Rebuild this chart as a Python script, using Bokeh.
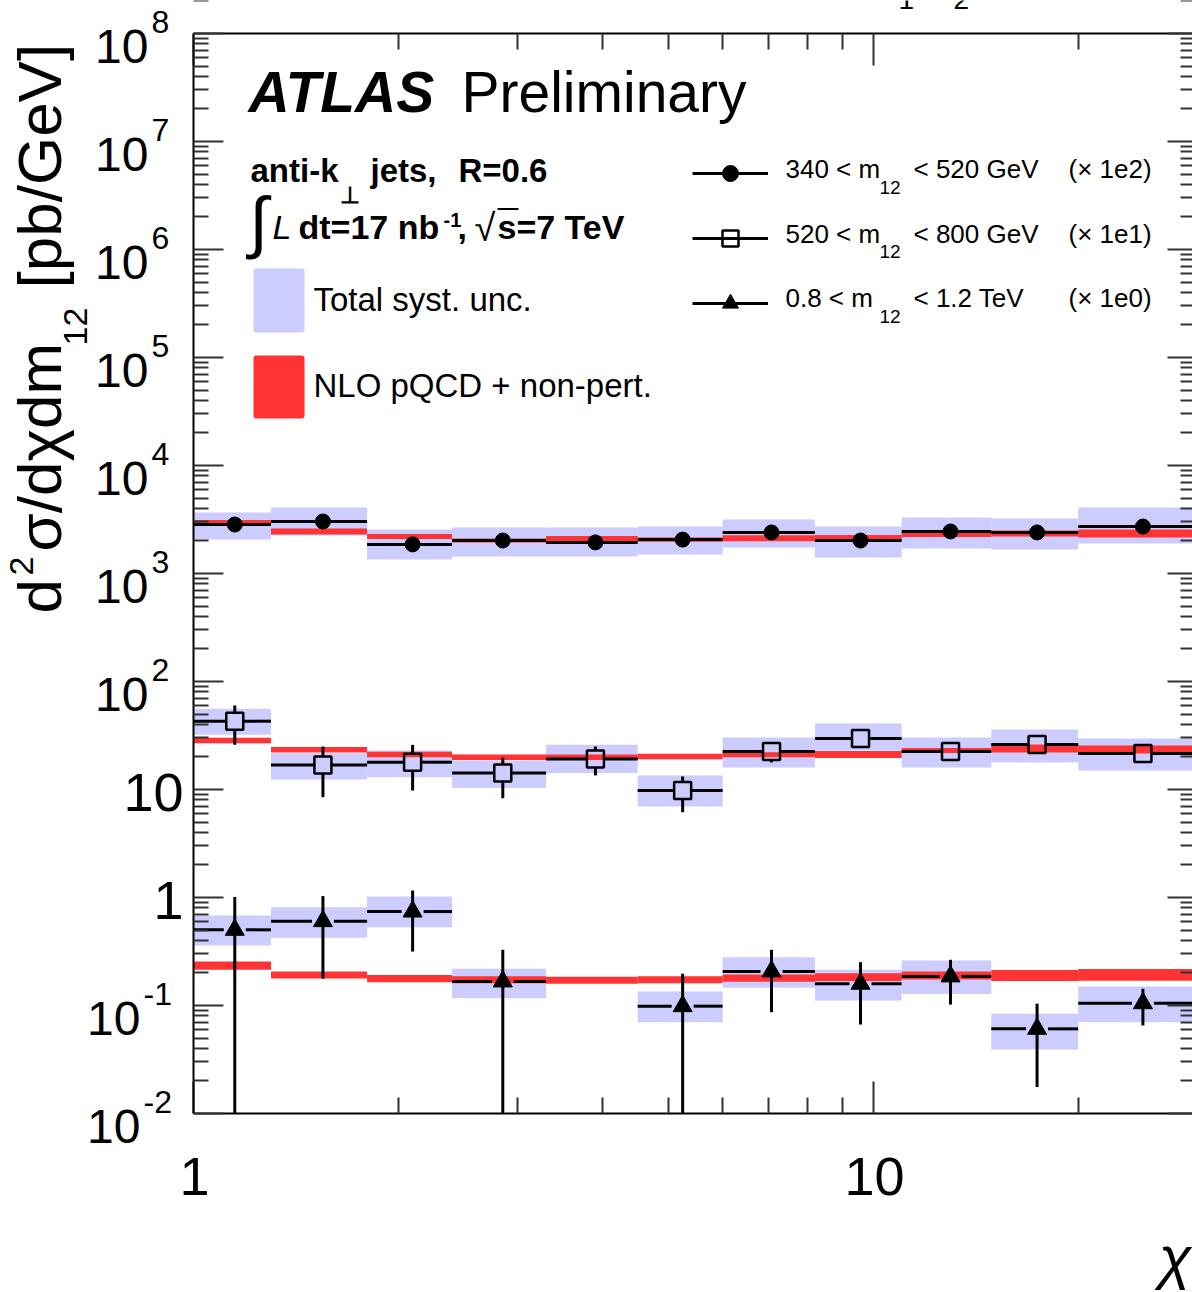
import numpy as np
from bokeh.plotting import figure
from bokeh.models import (Label, LogAxis, FixedTicker, BoxAnnotation, Legend,
                          LegendItem, Range1d, CustomJSTickFormatter)
from bokeh.embed import file_html
from bokeh.resources import INLINE

nan = np.nan

# ---------------- data ----------------
chi_edges = [1.0, 1.3, 1.8, 2.4, 3.3, 4.5, 6.0, 8.2, 11.0, 14.9, 20.0, 30.0]
chi_points = [1.15, 1.55, 2.10, 2.85, 3.90, 5.24, 7.08, 9.57, 12.98, 17.4, 24.9]

scale_factors = [1e2, 1e1, 1e0]
scale_labels = ["(\u00d7 1e2)", "(\u00d7 1e1)", "(\u00d7 1e0)"]
mass_lo = ["340", "520", "0.8 "]
mass_hi = ["< 520 GeV", "< 800 GeV", "< 1.2 TeV"]

# 340 < m12 < 520 GeV
m1_value   = [28.4, 30.3, 18.6, 20.2, 19.4, 20.6, 24.0, 20.2, 24.5, 24.0, 27.2]
m1_stat_lo = [24.5, 28.8, 17.6, 19.2, 18.4, 19.6, 22.8, 19.2, 23.3, 22.8, 25.8]
m1_stat_hi = [32.5, 31.8, 19.6, 21.2, 20.4, 21.6, 25.2, 21.2, 25.7, 25.2, 28.6]
m1_syst_lo = [20.6, 22.5, 13.5, 14.4, 14.4, 15.0, 17.4, 14.1, 17.0, 16.7, 19.0]
m1_syst_hi = [36.7, 40.8, 25.5, 26.7, 26.7, 27.2, 31.6, 27.2, 33.0, 32.3, 40.8]
m1_nlo     = [29.7, 24.5, 22.0, 20.2, 21.1, 20.6, 21.2, 21.5, 23.0, 23.5, 23.5]
m1_nlo_unc = [0.055, 0.066, 0.055, 0.045, 0.055, 0.045, 0.066, 0.055, 0.055, 0.066, 0.09]

# 520 < m12 < 800 GeV
m2_value   = [4.29, 1.69, 1.79, 1.42, 1.92, 0.979, 2.25, 2.97, 2.25, 2.61, 2.15]
m2_stat_lo = [2.59, 0.849, 0.979, 0.830, 1.35, 0.616, 1.78, 2.50, 1.90, 2.25, 1.85]
m2_stat_hi = [6.00, 2.50, 2.59, 1.97, 2.50, 1.32, 2.65, 3.50, 2.65, 3.00, 2.50]
m2_syst_lo = [3.21, 1.24, 1.30, 1.03, 1.42, 0.696, 1.60, 2.30, 1.60, 1.78, 1.50]
m2_syst_hi = [5.59, 2.17, 2.30, 1.86, 2.59, 1.35, 3.03, 4.08, 3.03, 3.59, 2.97]
m2_nlo     = [2.84, 2.33, 2.11, 1.99, 1.99, 2.02, 2.10, 2.11, 2.30, 2.40, 2.35]
m2_nlo_unc = [0.06, 0.06, 0.06, 0.06, 0.06, 0.06, 0.055, 0.077, 0.055, 0.09, 0.09]

# 0.8 < m12 < 1.2 TeV
m3_value   = [0.502, 0.604, 0.741, 0.167, nan, 0.0986, 0.207, 0.159, 0.186, 0.0608, 0.105]
m3_stat_lo = [0.0, 0.177, 0.316, 0.0, nan, 0.0, 0.0867, 0.0667, 0.102, 0.0176, 0.0653]
m3_stat_hi = [1.01, 1.03, 1.16, 0.328, nan, 0.197, 0.328, 0.252, 0.265, 0.104, 0.143]
m3_syst_lo = [0.360, 0.424, 0.531, 0.117, nan, 0.070, 0.146, 0.111, 0.128, 0.0392, 0.070]
m3_syst_hi = [0.681, 0.813, 1.02, 0.219, nan, 0.135, 0.280, 0.214, 0.261, 0.0838, 0.150]
m3_nlo     = [0.234, 0.192, 0.177, 0.173, 0.171, 0.173, 0.179, 0.183, 0.190, 0.190, 0.192]
m3_nlo_unc = [0.092, 0.077, 0.081, 0.077, 0.077, 0.077, 0.081, 0.085, 0.089, 0.124, 0.133]

y_decades = list(range(-2, 9))
x_major = [1, 10]

# ---------------- layout ----------------
# The plotting frame covers the whole canvas; the axes are pinned at fixed
# data locations so that texts outside the axes box are not clipped.
W, H = 1192, 1292
FL, FR, FT, FB = 193, 1192, 33, 1113      # axes box, picture pixels
PXD_X = 680.0
Y_START, Y_END = 1e-2, 1e8
PXD_Y = (FB - FT) / np.log10(Y_END / Y_START)
X_END = 10 ** ((FR - FL) / PXD_X)

SANS = "Liberation Sans"
SYST = "#ccccff"
RED = "#ff3333"
MID = 0.385   # Label anchor sits at mid height: baseline = anchor + MID * size


def X(px):
    return 10 ** ((px - FL) / PXD_X)


def Y(py):
    return 10 ** ((FB - py) / PXD_Y + np.log10(Y_START))


p = figure(width=W, height=H, x_axis_type="log", y_axis_type="log",
           x_range=Range1d(X(0), X(W)), y_range=Range1d(Y(H), Y(0)),
           output_backend="svg", toolbar_location=None,
           min_border_left=0, min_border_right=0,
           min_border_top=0, min_border_bottom=0)
p.outline_line_color = None
p.grid.visible = False
p.background_fill_color = "white"
p.border_fill_color = "white"

xmin = [k * 10 ** e for e in (0, 1) for k in range(2, 10)]
ymin = [k * 10.0 ** e for e in y_decades for k in range(2, 10)]


def style_axis(ax, ticks, minors, tin, mtin, loc, bounds, line=True):
    ax.ticker = FixedTicker(ticks=ticks, minor_ticks=minors)
    ax.formatter = CustomJSTickFormatter(code="return ''")
    ax.fixed_location = loc
    ax.bounds = bounds
    ax.major_tick_in = tin
    ax.major_tick_out = 0
    ax.minor_tick_in = mtin
    ax.minor_tick_out = 0
    ax.major_tick_line_width = 2
    ax.minor_tick_line_width = 2
    ax.major_tick_line_color = "#333333"
    ax.minor_tick_line_color = "#333333"
    ax.major_label_text_font_size = "1px"
    ax.major_label_text_color = None
    ax.major_label_standoff = 0
    ax.axis_line_width = 2
    ax.axis_line_color = "black" if line else None


yticks = [10.0 ** e for e in y_decades]
style_axis(p.xaxis[0], x_major, xmin, 32, 16, Y_START, (1.0, X_END))
style_axis(p.yaxis[0], yticks, ymin, 30, 15, 1.0, (Y_START, Y_END))
top_ax = LogAxis()
right_ax = LogAxis()
p.add_layout(top_ax, "above")
p.add_layout(right_ax, "right")
style_axis(top_ax, x_major, xmin, 32, 16, Y_END, (1.0, X_END))
style_axis(right_ax, yticks, ymin, 25, 12, X_END, (Y_START, Y_END), line=False)

# ---------------- data marks ----------------
edges = np.array(chi_edges)
lefts, rights = edges[:-1], np.minimum(edges[1:], X_END)
pts = np.array(chi_points)

series = [
    dict(v=m1_value, slo=m1_stat_lo, shi=m1_stat_hi, ylo=m1_syst_lo, yhi=m1_syst_hi,
         th=m1_nlo, tu=m1_nlo_unc, marker="circle", size=15, fill="black", lw=1, gap=0.0, vgap=0.0),
    dict(v=m2_value, slo=m2_stat_lo, shi=m2_stat_hi, ylo=m2_syst_lo, yhi=m2_syst_hi,
         th=m2_nlo, tu=m2_nlo_unc, marker="square", size=17, fill=None, lw=2.5, gap=8.5, vgap=8.5),
    dict(v=m3_value, slo=m3_stat_lo, shi=m3_stat_hi, ylo=m3_syst_lo, yhi=m3_syst_hi,
         th=m3_nlo, tu=m3_nlo_unc, marker="triangle", size=19, fill="black", lw=1, gap=11.0, vgap=0.0),
]

for s, sc in zip(series, scale_factors):
    p.quad(left=lefts, right=rights, bottom=np.array(s["ylo"]) * sc,
           top=np.array(s["yhi"]) * sc, fill_color=SYST, line_color=None)

for s, sc in zip(series, scale_factors):
    th = np.array(s["th"]) * sc
    tu = 1 + np.array(s["tu"])
    p.quad(left=lefts, right=rights, bottom=th / tu, top=th * tu,
           fill_color=RED, line_color=None)

legend_items = []
for s, sc in zip(series, scale_factors):
    v = np.array(s["v"]) * sc
    lo = np.array(s["slo"]) * sc
    hi = np.array(s["shi"]) * sc
    lo = np.where(lo > 0, lo, Y_START)
    gx = 10 ** (s["gap"] / PXD_X)
    gy = 10 ** (s["vgap"] / PXD_Y)
    hr = p.segment(x0=np.concatenate([lefts, pts * gx]), x1=np.concatenate([pts / gx, rights]),
                   y0=np.concatenate([v, v]), y1=np.concatenate([v, v]),
                   line_color="black", line_width=3)
    p.segment(x0=np.concatenate([pts, pts]), x1=np.concatenate([pts, pts]),
              y0=np.concatenate([v * gy, np.minimum(lo, v / gy)]),
              y1=np.concatenate([np.maximum(hi, v * gy), v / gy]),
              line_color="black", line_width=3)
    mr = p.scatter(pts, v, marker=s["marker"], size=s["size"], fill_color=s["fill"],
                   line_color="black", line_width=s["lw"])
    legend_items.append(LegendItem(label=" ", renderers=[hr, mr]))

legend = Legend(items=legend_items, location=(692, H - 323),
                orientation="vertical", glyph_width=76, glyph_height=40,
                spacing=25, padding=0, margin=0, label_standoff=0,
                label_width=1, label_height=1, label_text_font_size="2px",
                border_line_color=None, background_fill_alpha=0)
p.add_layout(legend, "center")


# ---------------- texts ----------------
def lab(px, py, text, size, style="normal", align="left", angle=0.0, font=SANS):
    """px, py: anchor x and text baseline, in picture pixels from the top-left."""
    if angle == 0.0:
        sx, sy = px, py - MID * size
    else:
        sx, sy = px - MID * size, py
    p.add_layout(Label(x=sx, y=H - sy, x_units="screen", y_units="screen",
                       text=text, text_font=font, level="overlay",
                       text_font_size=f"{size}px", text_font_style=style,
                       text_align=align, text_baseline="middle",
                       angle=angle, text_color="black"))


# y tick labels
for k in y_decades:
    tick_py = FB - (k - np.log10(Y_START)) * PXD_Y
    if k == 0:
        lab(183, tick_py + 24, "1", 54, align="right")
    elif k == 1:
        lab(183, tick_py + 24, "10", 54, align="right")
    else:
        xe = 151 if k > 0 else 143
        lab(xe - 3, tick_py + 31, "10", 48, align="right")
        lab(xe, tick_py + 1, str(k), 32)

# x tick labels
for xv in x_major:
    lab(FL + np.log10(xv) * PXD_X + 1, 1197, str(xv), 54, align="center")

# axis titles
lab(1191, 1280, "\u03c7", 60, style="italic", align="right")
ang = np.pi / 2
lab(63, 613, "d", 62, angle=ang)
lab(34, 575, "2", 34, angle=ang)
lab(63, 551, "\u03c3/d\u03c7dm", 62, angle=ang)
lab(88, 345, "12", 34, angle=ang)
lab(63, 288, "[pb/GeV]", 62, angle=ang)

# cut-off subscripts at the top edge
lab(898, 10, "1", 28)
lab(953, 10, "2", 28)

# ATLAS label
lab(248, 113, "ATLAS", 57, style="bold italic")
lab(461, 113, "Preliminary", 57)

lab(250, 183, "anti-k", 33, style="bold")
lab(339, 203, "\u22a5", 23, style="bold")
lab(370, 183, "jets,", 33, style="bold")
lab(458, 183, "R=0.6", 33, style="bold")

lab(249, 247, "\u222b", 68)
lab(272, 240, "L", 34, style="italic")
lab(298, 240, "dt=17 nb", 34, style="bold")
lab(443, 227, "-1", 20, style="bold")
lab(457, 240, ",", 34, style="bold")
lab(474, 242, "\u221a", 38)
lab(497, 240, "s=7 TeV", 34, style="bold")
p.add_layout(BoxAnnotation(left=X(497), right=X(518), top=Y(207.5), bottom=Y(209.5),
                           fill_color="black", fill_alpha=1, line_color=None))

# legend swatches
p.add_layout(BoxAnnotation(left=X(253), right=X(304), top=Y(268), bottom=Y(332),
                           fill_color=SYST, fill_alpha=1, line_color=None, border_radius=3))
p.add_layout(BoxAnnotation(left=X(253), right=X(304), top=Y(355), bottom=Y(418),
                           fill_color=RED, fill_alpha=1, line_color=None, border_radius=3))
lab(313, 312, "Total syst. unc.", 33)
lab(313, 398, "NLO pQCD + non-pert.", 33)

# right legend texts
for i, (lo_t, hi_t, sl) in enumerate(zip(mass_lo, mass_hi, scale_labels)):
    base = 179 + 64.5 * i
    lab(785, base, lo_t + " < m", 26)
    lab(879, base + 15, "12", 19)
    lab(913, base, hi_t, 26)
    lab(1068, base, sl, 26)

open("out.html", "w").write(file_html(p, INLINE))
